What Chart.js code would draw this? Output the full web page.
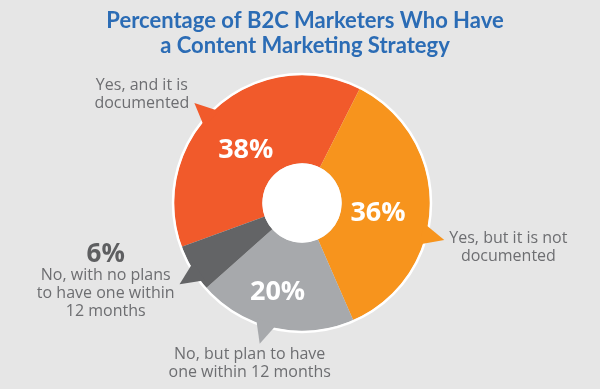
<!DOCTYPE html>
<html>
<head>
<meta charset="utf-8">
<title>B2C Content Marketing Strategy</title>
<script src="https://cdn.jsdelivr.net/npm/chart.js@4.4.1/dist/chart.umd.min.js"></script>
<style>
  html, body { margin: 0; padding: 0; background: #e6e6e6; }
  canvas { display: block; }
</style>
</head>
<body>
<canvas id="chart" width="600" height="389"></canvas>
<script>
const titleLines = ["Percentage of B2C Marketers Who Have", "a Content Marketing Strategy"];
const categories = [
  ["Yes, and it is", "documented"],
  ["Yes, but it is not", "documented"],
  ["No, but plan to have", "one within 12 months"],
  ["No, with no plans", "to have one within", "12 months"]
];
const shares = [38, 36, 20, 6];
const sliceColors = ["#f15a2b", "#f7941d", "#a7a9ac", "#636466"];

// callout tail position along each arc (0..1), % label position, label nudges
const tailAt = [0.46, 0.6, 0.56, 0.37];
const pctAt = [0.46, 0.55, 0.54, 0.5];
const pctDepth = [0.42, 0.42, 0.6, 0.5];
const pctInside = [true, true, true, false];
const labelShift = [[0, -8], [0, 7], [-10, 2], [0, -2]];

const calloutPlugin = {
  id: "callouts",
  afterDatasetsDraw(chart) {
    const ctx = chart.ctx;
    const arcs = chart.getDatasetMeta(0).data;
    const cx = arcs[0].x, cy = arcs[0].y;
    const R = arcs[0].outerRadius, r = arcs[0].innerRadius;
    ctx.save();

    // white rim + white hole
    ctx.strokeStyle = "#fff";
    ctx.lineWidth = 2.5;
    ctx.beginPath();
    ctx.arc(cx, cy, R + 1, 0, Math.PI * 2);
    ctx.stroke();
    ctx.fillStyle = "#fff";
    ctx.beginPath();
    ctx.arc(cx, cy, r, 0, Math.PI * 2);
    ctx.fill();

    arcs.forEach((arc, i) => {
      const span = arc.endAngle - arc.startAngle;
      const a = arc.startAngle + span * tailAt[i];
      const half = 5 * Math.PI / 180;
      const tip = { x: cx + Math.cos(a) * (R + 19), y: cy + Math.sin(a) * (R + 19) };

      // speech-bubble tail
      ctx.fillStyle = sliceColors[i];
      ctx.beginPath();
      ctx.moveTo(cx + Math.cos(a - half) * (R - 4), cy + Math.sin(a - half) * (R - 4));
      ctx.lineTo(tip.x, tip.y);
      ctx.lineTo(cx + Math.cos(a + half) * (R - 4), cy + Math.sin(a + half) * (R - 4));
      ctx.closePath();
      ctx.fill();

      // percentage inside the slice
      ctx.textAlign = "center";
      ctx.textBaseline = "middle";
      if (pctInside[i]) {
        const pa = arc.startAngle + span * pctAt[i];
        const pr = r + (R - r) * pctDepth[i];
        ctx.fillStyle = "#fff";
        ctx.font = "bold 27px 'Open Sans'";
        ctx.fillText(shares[i] + "%", cx + Math.cos(pa) * pr, cy + Math.sin(pa) * pr);
      }

      // outside label block
      const lines = categories[i];
      ctx.font = "16px 'Open Sans'";
      const w = Math.max(...lines.map(l => ctx.measureText(l).width));
      const lh = 18;
      const head = pctInside[i] ? 0 : 22;
      const h = head + lines.length * lh;
      let bx, top;
      if (Math.abs(Math.cos(a)) > 0.5) {
        bx = tip.x + Math.sign(Math.cos(a)) * (5 + w / 2) + labelShift[i][0];
        top = tip.y - h / 2 + labelShift[i][1];
      } else {
        bx = tip.x + labelShift[i][0];
        top = tip.y + labelShift[i][1];
      }
      if (!pctInside[i]) {
        ctx.fillStyle = "#5e5f61";
        ctx.font = "bold 26px 'Open Sans'";
        ctx.fillText(shares[i] + "%", bx, top + 10);
      }
      ctx.fillStyle = "#6d6e71";
      ctx.font = "16px 'Open Sans'";
      lines.forEach((l, k) => ctx.fillText(l, bx, top + head + lh * k + lh / 2));
    });

    // title
    ctx.fillStyle = "#2b6cb5";
    ctx.font = "bold 22px Lato";
    ctx.textAlign = "center";
    ctx.textBaseline = "alphabetic";
    titleLines.forEach((t, k) => ctx.fillText(t, 305, 28 + k * 25));
    ctx.restore();
  }
};

new Chart(document.getElementById("chart"), {
  type: "doughnut",
  data: {
    labels: categories,
    datasets: [{
      data: shares,
      backgroundColor: sliceColors,
      borderWidth: 0,
      hoverBorderWidth: 0,
      hoverOffset: 0
    }]
  },
  options: {
    responsive: false,
    animation: false,
    events: [],
    rotation: 250,
    cutout: "31%",
    layout: { padding: { top: 75, bottom: 58, left: 174, right: 170 } },
    plugins: {
      legend: { display: false },
      tooltip: { enabled: false },
      title: { display: false }
    }
  },
  plugins: [calloutPlugin]
});
</script>
</body>
</html>
